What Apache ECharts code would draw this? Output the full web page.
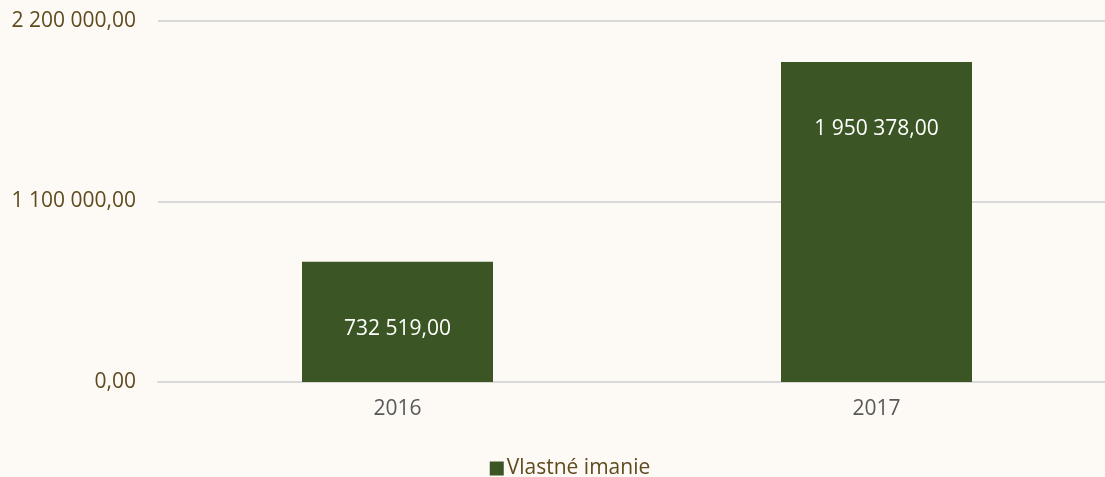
<!DOCTYPE html>
<html lang="sk">
<head>
<meta charset="UTF-8" />
<title>Vlastné imanie</title>
<script src="https://cdn.jsdelivr.net/npm/echarts@6/dist/echarts.min.js"></script>
<style>
  html, body { margin: 0; padding: 0; background: #fdf9f5; overflow: hidden; }
  #main { width: 1140px; height: 477px; }
</style>
</head>
<body>
<div id="main"></div>
<script type="text/javascript">
// data
var years = ['2016', '2017'];
var equity = [732519, 1950378];
var seriesName = 'Vlastné imanie';
var yTicks = [0, 1100000, 2200000];

// 1 950 378,00
function fmt(v) {
    var parts = v.toFixed(2).split('.');
    return parts[0].replace(/\B(?=(\d{3})+(?!\d))/g, ' ') + ',' + parts[1];
}

var myChart = echarts.init(document.getElementById('main'));
var option = {
    backgroundColor: '#fdf9f5',
    textStyle: { fontFamily: 'Open Sans' },
    grid: { left: 158, width: 958, top: 21, bottom: 95 },
    legend: {
        top: 453,
        left: 'center',
        itemWidth: 14,
        itemHeight: 14,
        itemGap: 4,
        icon: 'rect',
        textStyle: { color: '#5f4b1e', fontSize: 21, padding: [0, 0, 0, -2] },
        data: [seriesName]
    },
    xAxis: {
        type: 'category',
        data: years,
        axisLine: { lineStyle: { color: '#d9d9d9', width: 2 } },
        axisTick: { show: false },
        axisLabel: { color: '#595959', fontSize: 21, margin: 17 }
    },
    yAxis: {
        type: 'value',
        min: yTicks[0],
        max: yTicks[yTicks.length - 1],
        interval: yTicks[1] - yTicks[0],
        axisLine: { show: false },
        axisTick: { show: false },
        splitLine: { lineStyle: { color: '#d9d9d9', width: 2 } },
        axisLabel: { color: '#5f4b1e', fontSize: 21, margin: 22, formatter: fmt }
    },
    series: [{
        name: seriesName,
        type: 'bar',
        data: equity,
        barWidth: 191,
        itemStyle: { color: '#3b5624' },
        label: {
            show: true,
            position: 'insideTop',
            distance: 57,
            color: '#ffffff',
            fontSize: 21,
            formatter: function (p) { return fmt(p.value); }
        }
    }]
};
myChart.setOption(option);
</script>
</body>
</html>
